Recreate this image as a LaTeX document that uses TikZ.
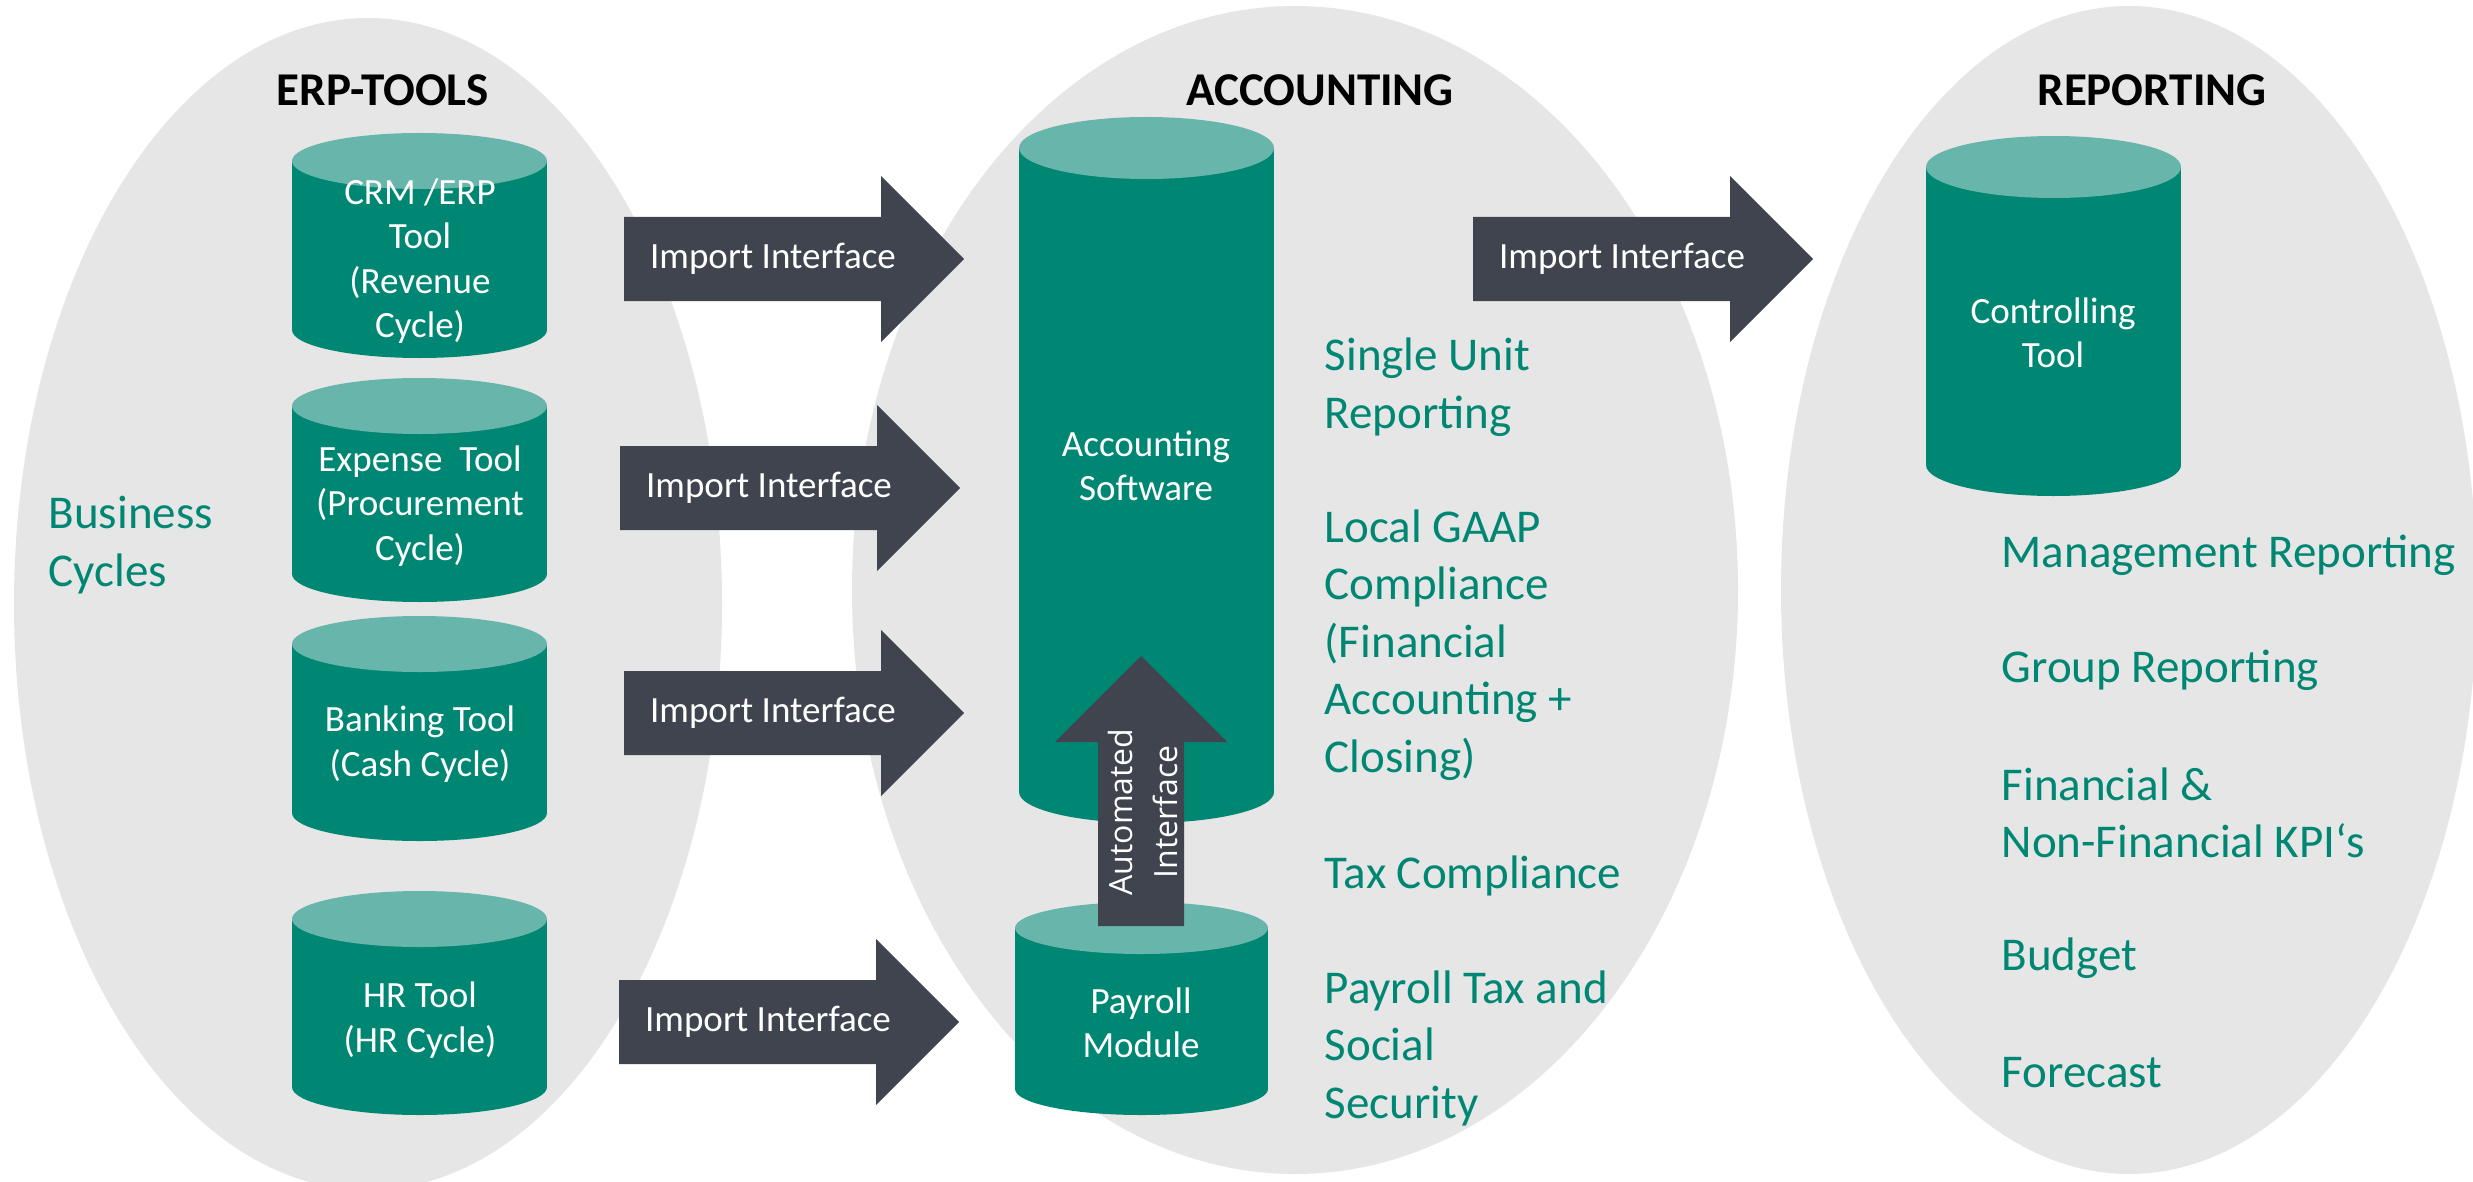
\documentclass[tikz,border=0pt]{standalone}
\usepackage{fontspec}
\setmainfont{Carlito}
\newfontfamily\opensans{Open Sans}
\definecolor{ellgray}{HTML}{E6E6E6}
\definecolor{tealbody}{HTML}{008774}
\definecolor{tealcap}{HTML}{67B5AB}
\definecolor{arrowgray}{HTML}{40444F}
\tikzset{
  ellshape/.style={fill=ellgray},
  cylbody/.style={fill=tealbody},
  cylcap/.style={fill=tealcap},
  blockarrow/.style={fill=arrowgray},
  cyltext/.style={text=white, align=center, inner sep=0pt, font=\fontsize{10.53}{12.66}\selectfont},
  arrowtext/.style={text=white, inner sep=0pt, font=\fontsize{10.53}{12.66}\selectfont},
  greentext/.style={text=tealbody, align=left, anchor=west, inner sep=0pt, font=\fontsize{13.37}{16.36}\selectfont},
  header/.style={text=black, inner sep=0pt, font=\bfseries\fontsize{13.37}{16}\selectfont},
}
\newcommand\cylinderdraw[5]{%
  \fill[cylbody] (#1,#3) rectangle (#2,#4);
  \fill[cylbody] ({(#1+#2)/2},#4) ellipse [x radius={(#2-#1)/2}, y radius=#5];
  \fill[cylcap] ({(#1+#2)/2},#3) ellipse [x radius={(#2-#1)/2}, y radius=#5];}
\newcommand\rightblock[4]{%
  \fill[blockarrow] (#2,#3-42) -- (#2+257,#3-42) -- (#2+257,#3-83) -- (#2+340,#3)
    -- (#2+257,#3+83) -- (#2+257,#3+42) -- (#2,#3+42) -- cycle;
  \node[arrowtext] (#1) at (#2+149,#3) {#4};}
\begin{document}
\begin{tikzpicture}[x=0.01cm,y=-0.01cm]
\path[use as bounding box] (0,0) rectangle (2473,1182);
\begin{scope}
  \clip (0,0) rectangle (2473,1182);
  \fill[ellshape] (368,604) ellipse [x radius=354, y radius=586];
  \fill[ellshape] (1295,590) ellipse [x radius=443, y radius=584];
  \fill[ellshape] (2129,590) ellipse [x radius=348, y radius=584];
\end{scope}

% cylinders
\cylinderdraw{292}{547}{161}{330}{28}
\cylinderdraw{292}{547}{406}{574}{28}
\cylinderdraw{292}{547}{644}{813}{28}
\cylinderdraw{292}{547}{919}{1087}{28}
\cylinderdraw{1019}{1274}{148}{792}{31}
\cylinderdraw{1015}{1268}{928}{1089}{26}
\cylinderdraw{1926}{2181}{167}{465}{31}

% block arrows
\rightblock{imp1}{624}{259}{Import Interface}
\rightblock{imp2}{620}{488}{Import Interface}
\rightblock{imp3}{624}{713}{Import Interface}
\rightblock{imp4}{619}{1022}{Import Interface}
\rightblock{imp5}{1473}{259}{Import Interface}

% automated interface arrow
\fill[blockarrow] (1098,926) -- (1098,742) -- (1055,742) -- (1141,656) -- (1227,742) -- (1184,742) -- (1184,926) -- cycle;
\node[rotate=90, text=white, align=center, inner sep=0pt, font=\opensans\fontsize{9.1}{12.8}\selectfont] (auto) at (1143,812) {Automated\\Interface};

% headers
\node[header] (hdrerp) at (383,90) {ERP-TOOLS};
\node[header] (hdracc) at (1320,90) {ACCOUNTING};
\node[header] (hdrrep) at (2152,90) {REPORTING};

% cylinder texts
\node[cyltext] (crm) at (420,261) {CRM /ERP\\Tool\\(Revenue\\Cycle)};
\node[cyltext] (expense) at (420,506) {Expense\ \ Tool\\(Procurement\\Cycle)};
\node[cyltext] (banking) at (420,744) {Banking Tool\\(Cash Cycle)};
\node[cyltext] (hr) at (420,1020) {HR Tool\\(HR Cycle)};
\node[cyltext] (acc) at (1146,466) {Accounting\\Software};
\node[cyltext] (payroll) at (1141,1023) {Payroll\\Module};
\node[cyltext] (ctrl) at (2053,333) {Controlling\\Tool};

% green texts
\node[greentext] (biz) at (48,545) {Business\\Cycles};
\node[greentext] (single) at (1324,387) {Single Unit\\Reporting};
\node[greentext] (gaap) at (1324,645) {Local GAAP\\Compliance\\(Financial\\Accounting +\\Closing)};
\node[greentext] (tax) at (1324,876) {Tax Compliance};
\node[greentext] (paytax) at (1324,1048) {Payroll Tax and\\Social\\Security};
\node[greentext] (mgmt) at (2001,555) {Management Reporting};
\node[greentext] (group) at (2001,670) {Group Reporting};
\node[greentext] (kpi) at (2001,813) {Financial \&\\Non-Financial KPI‘s};
\node[greentext] (budget) at (2001,958) {Budget};
\node[greentext] (forecast) at (2001,1073) {Forecast};
\end{tikzpicture}
\end{document}
